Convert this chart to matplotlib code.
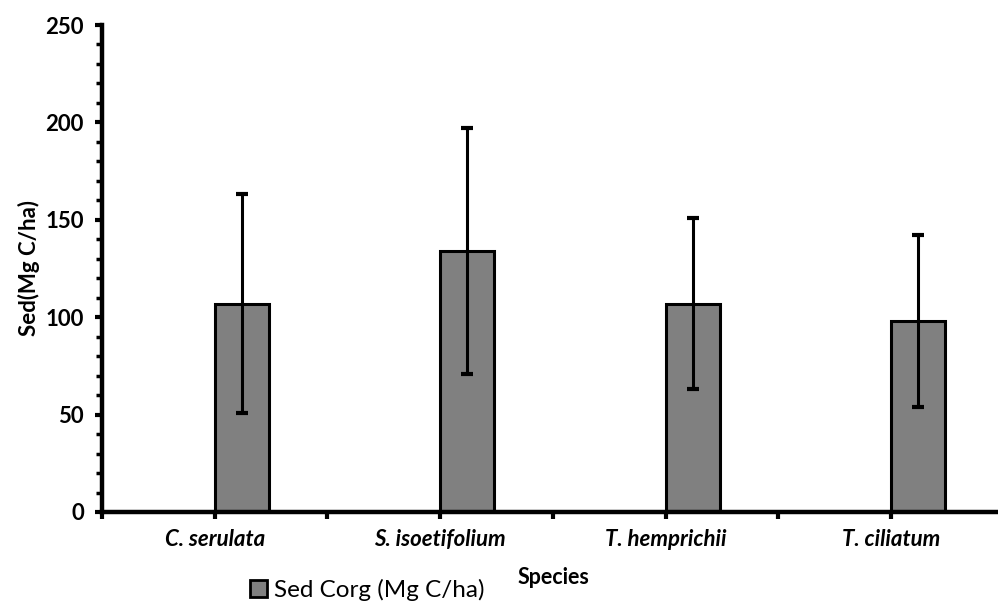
import matplotlib
matplotlib.use("Agg")
import matplotlib.pyplot as plt
from matplotlib.patches import Patch
from matplotlib.ticker import MultipleLocator, FixedLocator
import numpy as np

# データ
species = ["C. serulata", "S. isoetifolium", "T. hemprichii", "T. ciliatum"]
sed_corg = [107, 134, 107, 98]
sed_err = [56, 63, 44, 44]

plt.rcParams['font.family'] = ['Lato', 'DejaVu Sans']

fig = plt.figure(figsize=(9.98, 6.01), dpi=100)
ax = fig.add_axes([102 / 998, 89 / 601, 896 / 998, 487 / 601])

# 棒はカテゴリ位置を左端にして配置 (Excel風)
pos = np.arange(len(species)) * 2 + 1
width = 0.48
ax.bar(pos, sed_corg, width=width, align='edge', color='#808080',
       edgecolor='black', linewidth=2.2, zorder=2)
ax.errorbar(pos + width / 2, sed_corg, yerr=sed_err, fmt='none',
            ecolor='black', elinewidth=2.2, capsize=4, capthick=3, zorder=3)

ax.set_xlim(0, 896 / 112.7)
ax.set_ylim(0, 250)

# 軸の見た目
for s in ['top', 'right']:
    ax.spines[s].set_visible(False)
for s in ['left', 'bottom']:
    ax.spines[s].set_linewidth(3.2)

ax.yaxis.set_major_locator(MultipleLocator(50))
ax.yaxis.set_minor_locator(MultipleLocator(10))
ax.xaxis.set_major_locator(FixedLocator(np.arange(0, 8)))
ax.tick_params(axis='y', which='major', length=5, width=3, direction='out', pad=8)
ax.tick_params(axis='y', which='minor', length=4, width=2.5, direction='out')
ax.tick_params(axis='x', which='major', length=5, width=3, direction='out')
ax.set_xticklabels([])
for t in ax.get_yticklabels():
    t.set_fontsize(16)
    t.set_fontweight('bold')

# カテゴリラベル
for p, name in zip(pos, species):
    ax.text(p, -14, name, ha='center', va='center', fontsize=16,
            fontweight='bold', fontstyle='italic')

ax.set_ylabel("Sed(Mg C/ha)", fontsize=16, fontweight='bold')
ax.yaxis.set_label_coords(-62 / 896, 0.5)
fig.text(553 / 998, 1 - 577 / 601, "Species", ha='center', va='center',
         fontsize=15.5, fontweight='bold')

# 凡例
handle = Patch(facecolor='#808080', edgecolor='black', linewidth=2)
fig.legend([handle], ["Sed Corg (Mg C/ha)"], loc='center left',
           bbox_to_anchor=(238 / 998, 1 - 590 / 601), frameon=False,
           fontsize=17.5, handlelength=0.7, handleheight=0.7, handletextpad=0.3,
           borderpad=0)

fig.savefig("out.png", dpi=100)
